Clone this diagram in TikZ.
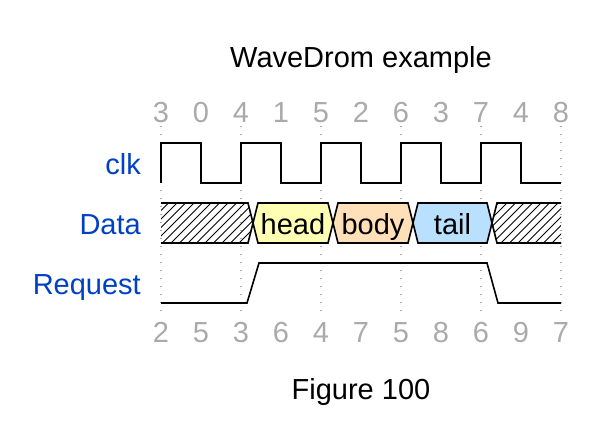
\documentclass[tikz,border=0pt]{standalone}
\usepackage{fontspec}
\setmainfont{Liberation Sans}
\definecolor{lblue}{HTML}{0041C4}
\definecolor{tickgray}{HTML}{AAAAAA}
\definecolor{gridgray}{HTML}{AAAAAA}
\definecolor{fhead}{HTML}{FFFFB4}
\definecolor{fbody}{HTML}{FFE0B9}
\definecolor{ftail}{HTML}{B9E0FF}
\begin{document}
\begin{tikzpicture}[x=1pt,y=-1pt,
  txt/.style={inner sep=0pt,font=\fontsize{29}{32}\selectfont},
  lanelabel/.style={txt,text=lblue,anchor=base east},
  ticklabel/.style={txt,text=tickgray,anchor=base},
  wave/.style={line width=1.6pt,line join=miter},
  gridline/.style={gridgray,line width=1.3pt,dash pattern=on 1.3pt off 6.7pt},
  hatchline/.style={line width=0.8pt}]
\useasboundingbox (0,0) rectangle (600,444);
\fill[white] (0,0) rectangle (600,444);
% grid
\foreach \x in {161,241,321,401,481,561}
  \draw[gridline] (\x,126) -- (\x,314);
% title and caption
\node[txt,anchor=base] (title) at (361,67) {WaveDrom example};
\node[txt,anchor=base] (caption) at (361,399) {Figure 100};
% tick labels
\foreach \v [count=\i from 0] in {3,0,4,1,5,2,6,3,7,4,8}
  \node[ticklabel] (top\i) at ({161+40*\i},122) {\v};
\foreach \v [count=\i from 0] in {2,5,3,6,4,7,5,8,6,9,7}
  \node[ticklabel] (bot\i) at ({161+40*\i},342) {\v};
% lane labels
\node[lanelabel] (lclk) at (141,174) {clk};
\node[lanelabel] (ldata) at (141,234) {Data};
\node[lanelabel] (lreq) at (141,294) {Request};
% clk
\draw[wave] (161,183) -- (161,143) -- (201,143) -- (201,183) -- (241,183)
  -- (241,143) -- (281,143) -- (281,183) -- (321,183)
  -- (321,143) -- (361,143) -- (361,183) -- (401,183)
  -- (401,143) -- (441,143) -- (441,183) -- (481,183)
  -- (481,143) -- (521,143) -- (521,183) -- (561,183);
% data hatch regions
\begin{scope}
  \clip (161,203) -- (248,203) -- (253,223) -- (248,243) -- (161,243) -- cycle;
  \foreach \x in {120,128.5,...,260}
    \draw[hatchline] (\x,243) -- (\x+40,203);
\end{scope}
\begin{scope}
  \clip (561,203) -- (497,203) -- (492,223) -- (497,243) -- (561,243) -- cycle;
  \foreach \x in {450,458.5,...,570}
    \draw[hatchline] (\x,243) -- (\x+40,203);
\end{scope}
\draw[wave] (161,203) -- (248,203) -- (253,223) -- (248,243) -- (161,243);
\draw[wave] (561,203) -- (497,203) -- (492,223) -- (497,243) -- (561,243);
% data segments
\draw[wave,fill=fhead] (253,223) -- (258,203) -- (328,203) -- (333,223) -- (328,243) -- (258,243) -- cycle;
\draw[wave,fill=fbody] (333,223) -- (338,203) -- (408,203) -- (413,223) -- (408,243) -- (338,243) -- cycle;
\draw[wave,fill=ftail] (413,223) -- (418,203) -- (487,203) -- (492,223) -- (487,243) -- (418,243) -- cycle;
\node[txt,anchor=base] (dhead) at (293,234) {head};
\node[txt,anchor=base] (dbody) at (373,234) {body};
\node[txt,anchor=base] (dtail) at (452.5,234) {tail};
% request
\draw[wave] (161,303) -- (247,303) -- (259,263) -- (487,263) -- (498,303) -- (561,303);
\end{tikzpicture}
\end{document}
